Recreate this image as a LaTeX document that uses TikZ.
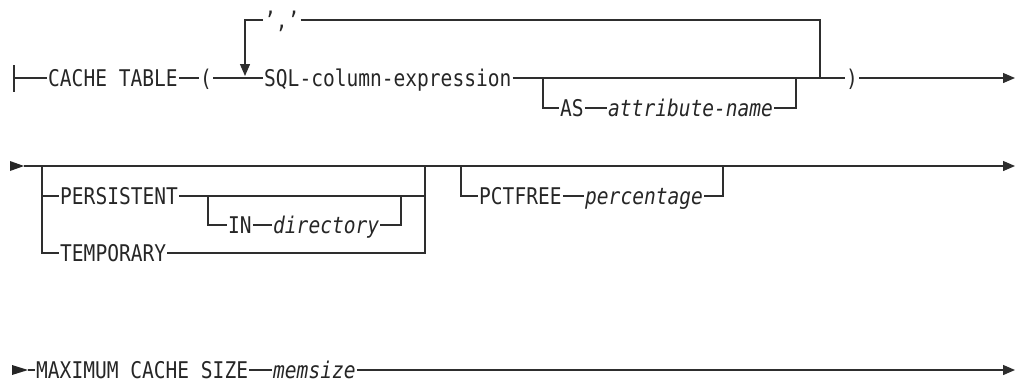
\documentclass[tikz,border=0pt]{standalone}
\usepackage{fontspec}
\newfontfamily\rrfont[FakeStretch=0.85]{DejaVu Sans Mono}
\usetikzlibrary{arrows.meta}
\begin{document}
\begin{tikzpicture}[x=1pt,y=-1pt,
  ln/.style={line width=1.3pt, draw=black!82},
  tok/.style={font=\rrfont\fontsize{23pt}{23pt}\selectfont, text=black!85, inner xsep=1pt, inner ysep=0pt, text height=16.5pt, text depth=0pt, anchor=west},
  var/.style={tok, font=\rrfont\itshape\fontsize{23pt}{23pt}\selectfont},
  endarr/.style={-{Triangle[length=12pt,width=10pt]}},
  starttri/.style={fill=black!85}
]
\useasboundingbox (0,0) rectangle (1017,381);

% ---------- Row 1 ----------
\coordinate (s1) at (14,78);
\coordinate (e1) at (1015,78);
\coordinate (loopTip) at (245,76);
\coordinate (loopR) at (820,78);
\coordinate (asL) at (543,78);
\coordinate (asR) at (796,78);
\draw[ln] (14,65) -- (14,92);
\node[tok] (ct) at (47,78) {CACHE TABLE};
\node[tok] (lp) at (199,78) {(};
\node[tok] (sql) at (263,78) {SQL-column-expression};
\node[tok] (comma) at (263,20) {’,’};
\node[tok] (rp) at (845,78) {)};
\node[tok] (as) at (559,108) {AS};
\node[var] (attr) at (607,108) {attribute-name};

\draw[ln] (s1) -- (ct.west);
\draw[ln] (ct.east) -- (lp.west);
\draw[ln] (lp.east) -- (sql.west);
\draw[ln] (sql.east) -- (rp.west);
\draw[ln,endarr] (rp.east) -- (e1);
\draw[ln,endarr] (comma.west) -| (loopTip);
\draw[ln] (comma.east) -| (loopR);
\draw[ln] (asL) |- (as.west);
\draw[ln] (as.east) -- (attr.west);
\draw[ln] (attr.east) -| (asR);

% ---------- Row 2 ----------
\coordinate (s2) at (24,166);
\coordinate (e2) at (1015,166);
\coordinate (brL) at (42,166);
\coordinate (brR) at (425,166);
\coordinate (inL) at (208,196);
\coordinate (inR) at (401,196);
\coordinate (pcL) at (461,166);
\coordinate (pcR) at (723,166);
\fill[starttri] (10,161) -- (s2) -- (10,171) -- cycle;
\node[tok] (pers) at (59,196) {PERSISTENT};
\node[tok] (temp) at (59,253) {TEMPORARY};
\node[tok] (in) at (227,225) {IN};
\node[var] (dir) at (272,225) {directory};
\node[tok] (pct) at (478,196) {PCTFREE};
\node[var] (perc) at (584,196) {percentage};

\draw[ln,endarr] (s2) -- (e2);
\draw[ln] (brL) |- (temp.west);
\draw[ln] (brL |- pers.west) -- (pers.west);
\draw[ln] (pers.east) -| (brR);
\draw[ln] (temp.east) -| (brR);
\draw[ln] (inL) |- (in.west);
\draw[ln] (in.east) -- (dir.west);
\draw[ln] (dir.east) -| (inR);
\draw[ln] (pcL) |- (pct.west);
\draw[ln] (pct.east) -- (perc.west);
\draw[ln] (perc.east) -| (pcR);

% ---------- Row 3 ----------
\coordinate (s3) at (28,370);
\coordinate (e3) at (1015,370);
\fill[starttri] (12,365) -- (s3) -- (12,375) -- cycle;
\node[tok] (max) at (35,370) {MAXIMUM CACHE SIZE};
\node[var] (mem) at (272,370) {memsize};
\draw[ln] (s3) -- (max.west);
\draw[ln] (max.east) -- (mem.west);
\draw[ln,endarr] (mem.east) -- (e3);
\end{tikzpicture}
\end{document}
